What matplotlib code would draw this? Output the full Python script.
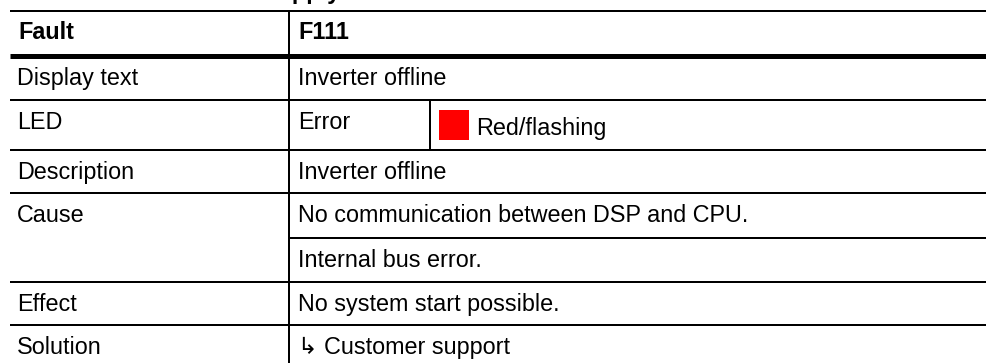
import matplotlib
matplotlib.use("Agg")
import matplotlib.pyplot as plt
from matplotlib.patches import Rectangle

# ---- data ----
header_label = "Fault"
header_value = "F111"
row_labels = ["Display text", "LED", "Description", "Cause", "Effect", "Solution"]
row_values = [["Inverter offline"],
              ["Error"],
              ["Inverter offline"],
              ["No communication between DSP and CPU.", "Internal bus error."],
              ["No system start possible."],
              ["\u21b3 Customer support"]]
led_state = "Red/flashing"
led_color = "#ff0000"
caption_above = "Power supply"

# ---- layout (pixels) ----
W, H = 987, 363
fig = plt.figure(figsize=(W / 100, H / 100), dpi=100)
ax = fig.add_axes([0, 0, 1, 1])
ax.set_xlim(0, W)
ax.set_ylim(H, 0)
ax.axis("off")

FONT = ["Liberation Sans", "DejaVu Sans"]
FS = 16.8
LW_THIN = 2 * 0.72
LW_THICK = 5 * 0.72
x_left, x_div, x_sub, x_right = 10, 289, 430, W
text_pad = 7

# horizontal line positions
y_top = 11
y_head = 56
sub_h = [44, 50, 43, 45, 44, 43, 43]  # heights of each sub row

def hline(y, x0, lw):
    ax.plot([x0, x_right], [y, y], color="black", lw=lw, solid_capstyle="butt")

hline(y_top, x_left, LW_THIN)
hline(y_head, x_left, LW_THICK)
ax.plot([x_div, x_div], [y_top, H], color="black", lw=LW_THIN, solid_capstyle="butt")

# header text
ax.text(x_left + text_pad + 1, y_top + 28, header_label, fontsize=FS, fontweight="bold",
        family=FONT, va="baseline", ha="left")
ax.text(x_div + text_pad + 2, y_top + 28, header_value, fontsize=FS, fontweight="bold",
        family=FONT, va="baseline", ha="left")

# caption above (clipped at top, as in the source page)
ax.text(188, -1, caption_above, fontsize=FS, fontweight="bold", family=FONT,
        va="baseline", ha="left")

y = y_head
k = 0
for label, vals in zip(row_labels, row_values):
    row_top = y
    ax.text(x_left + text_pad, row_top + 29, label, fontsize=FS, family=FONT,
            va="baseline", ha="left")
    for j, v in enumerate(vals):
        if j > 0:
            hline(y, x_div, LW_THIN)
        ax.text(x_div + text_pad + 2, y + 29, v, fontsize=FS, family=FONT,
                va="baseline", ha="left")
        if label == "LED":
            ax.plot([x_sub, x_sub], [y, y + sub_h[k]], color="black", lw=LW_THIN,
                    solid_capstyle="butt")
            ax.add_patch(Rectangle((x_sub + 9, y + 10), 30, 30, color=led_color, lw=0))
            ax.text(x_sub + 46, y + 35, led_state, fontsize=FS, family=FONT,
                    va="baseline", ha="left")
        y += sub_h[k]
        k += 1
    if label != row_labels[-1]:
        hline(y, x_left, LW_THIN)

fig.savefig("out.png", dpi=100)
